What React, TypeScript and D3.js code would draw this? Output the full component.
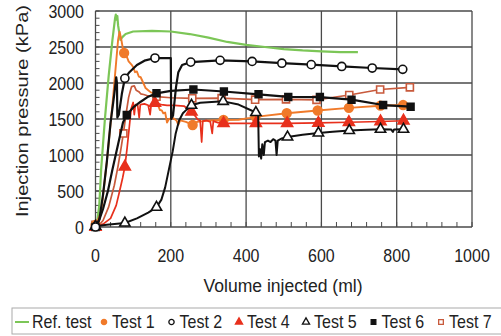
import React from "react";
import * as d3 from "d3";

type Pt = [number, number];

const volumeTicks = [0, 200, 400, 600, 800, 1000];
const pressureTicks = [0, 500, 1000, 1500, 2000, 2500, 3000];

const refLine: Pt[] = [[0,0],[5,100],[10,300],[15,800],[20,1150],[25,1500],[35,2100],[45,2600],[52,2900],[54,2950],[56,2880],[58,2930],[60,2800],[63,2700],[66,2600],[72,2640],[80,2680],[100,2715],[150,2725],[200,2715],[250,2680],[300,2630],[350,2570],[400,2530],[450,2500],[500,2470],[550,2452],[600,2440],[650,2428],[697,2428]];

const test1Line: Pt[] = [[0,30],[15,200],[30,900],[45,1700],[55,2300],[60,2600],[64,2712],[68,2620],[72,2500],[76,2417],[82,2380],[88,2300],[95,2260],[100,2222],[105,2150],[110,2160],[115,2090],[120,2080],[127,2000],[133,1930],[140,1900],[147,1870],[153,1860],[157,1780],[162,1760],[167,1680],[171,1625],[176,1620],[180,1580],[185,1590],[190,1450],[195,1500],[207,1510],[215,1480],[220,1420],[225,1480],[240,1460],[258,1417],[270,1460],[300,1480],[340,1486],[380,1490],[410,1515],[425,1530],[508,1580],[590,1618],[673,1655],[757,1685],[817,1694]];
const test1Marks: Pt[] = [[0,30],[76,2417],[258,1417],[340,1486],[425,1530],[508,1580],[590,1618],[673,1655],[757,1685],[817,1694]];

const test2Line: Pt[] = [[0,0],[10,100],[20,450],[30,900],[40,1450],[50,1850],[55,2080],[57,2000],[58,1520],[62,1560],[70,1850],[78,2065],[90,2150],[110,2250],[130,2310],[158,2347],[200,2345],[201,1500],[206,1550],[210,1750],[214,1950],[220,2150],[230,2250],[253,2290],[331,2315],[416,2300],[495,2275],[573,2255],[654,2230],[735,2208],[816,2190]];
const test2Marks: Pt[] = [[0,0],[78,2065],[158,2347],[253,2290],[331,2315],[416,2300],[495,2275],[573,2255],[654,2230],[735,2208],[816,2190]];

const test4Line: Pt[] = [[0,0],[20,40],[40,120],[55,300],[65,520],[72,680],[78,838],[84,1100],[90,1400],[95,1650],[100,1730],[103,1560],[106,1700],[112,1690],[116,1520],[119,1700],[130,1710],[140,1690],[145,1560],[148,1700],[158,1720],[175,1700],[190,1690],[210,1690],[235,1680],[255,1600],[265,1540],[272,1490],[278,1480],[282,1180],[285,1470],[295,1480],[305,1460],[310,1300],[313,1470],[325,1450],[340,1440],[380,1440],[426,1440],[509,1440],[592,1445],[673,1455],[757,1465],[818,1476]];
const test4Marks: Pt[] = [[0,0],[78,838],[158,1720],[255,1600],[340,1440],[426,1440],[509,1440],[592,1445],[673,1455],[757,1465],[818,1476]];

const test5Line: Pt[] = [[0,10],[30,30],[78,55],[110,120],[140,200],[162,273],[175,380],[185,550],[195,800],[205,1050],[213,1300],[222,1480],[232,1580],[242,1630],[255,1690],[278,1726],[339,1745],[380,1700],[426,1590],[432,1580],[434,980],[437,1080],[440,950],[443,1150],[447,1000],[450,1180],[458,1200],[465,1180],[472,1220],[478,1200],[481,1000],[484,1200],[495,1230],[510,1250],[550,1280],[592,1305],[630,1322],[674,1340],[720,1350],[757,1357],[785,1355],[790,1320],[793,1355],[818,1357]];
const test5Marks: Pt[] = [[0,10],[78,55],[162,273],[255,1690],[339,1745],[426,1590],[510,1250],[592,1305],[674,1340],[757,1357],[818,1357]];

const test6Line: Pt[] = [[0,0],[10,100],[20,250],[33,500],[45,800],[60,1150],[73,1450],[83,1555],[100,1660],[120,1740],[140,1810],[162,1857],[200,1890],[260,1910],[341,1882],[433,1843],[512,1806],[596,1805],[680,1768],[764,1694],[837,1671]];
const test6Marks: Pt[] = [[0,0],[83,1555],[162,1857],[260,1910],[341,1882],[433,1843],[512,1806],[596,1805],[680,1768],[764,1694],[837,1671]];

const test7Line: Pt[] = [[0,0],[10,30],[20,90],[35,280],[50,580],[60,850],[68,1100],[74,1300],[82,1600],[88,1800],[93,1900],[96,1950],[103,1960],[108,1900],[115,1880],[120,1850],[128,1840],[140,1820],[162,1810],[200,1795],[257,1787],[335,1790],[424,1768],[506,1773],[587,1766],[674,1833],[756,1910],[835,1940]];
const test7Marks: Pt[] = [[0,30],[74,1300],[162,1810],[257,1787],[335,1790],[424,1768],[506,1773],[587,1766],[674,1833],[756,1910],[835,1940]];

const GREEN = "#7cc657";
const ORANGE = "#f07a2a";
const RED = "#e8301c";
const BROWN = "#c85a3c";
const BLACK = "#111111";

type Series = {
  name: string;
  line: Pt[];
  marks: Pt[];
  color: string;
  symbol: d3.SymbolType | null;
  filled: boolean;
  width: number;
  size: number;
};

const seriesList: Series[] = [
  { name: "Ref. test", line: refLine, marks: [], color: GREEN, symbol: null, filled: false, width: 2.2, size: 0 },
  { name: "Test 7", line: test7Line, marks: test7Marks, color: BROWN, symbol: d3.symbolSquare, filled: false, width: 1.7, size: 50 },
  { name: "Test 1", line: test1Line, marks: test1Marks, color: ORANGE, symbol: d3.symbolCircle, filled: true, width: 1.9, size: 60 },
  { name: "Test 4", line: test4Line, marks: test4Marks, color: RED, symbol: d3.symbolTriangle, filled: true, width: 1.7, size: 52 },
  { name: "Test 5", line: test5Line, marks: test5Marks, color: BLACK, symbol: d3.symbolTriangle, filled: false, width: 2, size: 46 },
  { name: "Test 6", line: test6Line, marks: test6Marks, color: BLACK, symbol: d3.symbolSquare, filled: true, width: 2.2, size: 46 },
  { name: "Test 2", line: test2Line, marks: test2Marks, color: BLACK, symbol: d3.symbolCircle, filled: false, width: 2.2, size: 52 },
];

const legendOrder = ["Ref. test", "Test 1", "Test 2", "Test 4", "Test 5", "Test 6", "Test 7"];
const legendX = [15, 104, 171.5, 239, 306, 373.5, 441];

const W = 501, H = 336;
const x = d3.scaleLinear().domain([0, 1000]).range([95.5, 472]);
const y = d3.scaleLinear().domain([0, 3000]).range([227, 11]);
const FONT = "'Liberation Sans', Arial, Helvetica, sans-serif";
const GRID = "#4a4a4a";

export default function App() {
  const line = d3.line<Pt>().x(d => x(d[0])).y(d => y(d[1]));
  const minorY = d3.range(0, 3001, 100);
  const minorX = d3.range(0, 1001, 40);
  const sym = (s: Series, sz: number) => (s.symbol ? d3.symbol().type(s.symbol).size(sz)() || "" : "");
  return (
    <svg width={W} height={H} style={{ position: "absolute", left: 0, top: 0, background: "#fff" }} fontFamily={FONT}>
      <rect x={0} y={0} width={W} height={H} fill="#fff" />
      {pressureTicks.map(t => (
        <line key={"gy" + t} x1={x(0)} x2={x(1000)} y1={y(t)} y2={y(t)} stroke={GRID} strokeWidth={1.3} />
      ))}
      {volumeTicks.map(t => (
        <line key={"gx" + t} x1={x(t)} x2={x(t)} y1={y(0)} y2={y(3000)} stroke={GRID} strokeWidth={1.3} />
      ))}
      {minorY.map(t => (
        <line key={"my" + t} x1={x(0)} x2={x(0) + 4} y1={y(t)} y2={y(t)} stroke={GRID} strokeWidth={1} />
      ))}
      {minorX.map(t => (
        <line key={"mx" + t} x1={x(t)} x2={x(t)} y1={y(0)} y2={y(0) - 5} stroke={GRID} strokeWidth={1} />
      ))}
      {seriesList.map(s => (
        <g key={s.name}>
          <path d={line(s.line) || ""} fill="none" stroke={s.color} strokeWidth={s.width} strokeLinejoin="round" />
          {s.marks.map((m, i) => (
            <path key={i} d={sym(s, s.size)} transform={`translate(${x(m[0])},${y(m[1])})`}
              fill={s.filled ? s.color : "#fff"} stroke={s.color} strokeWidth={1.6} />
          ))}
        </g>
      ))}
      {pressureTicks.map(t => (
        <text key={"ty" + t} transform={`translate(84,${y(t) + 6.5}) scale(1,1.15)`} textAnchor="end" fontSize={16} fill="#222">{t}</text>
      ))}
      {volumeTicks.map(t => (
        <text key={"tx" + t} transform={`translate(${x(t)},262) scale(1,1.15)`} textAnchor="middle" fontSize={16} fill="#222">{t}</text>
      ))}
      <text transform="translate(283,292) scale(1,1.12)" textAnchor="middle" fontSize={17} fill="#222" textLength={159} lengthAdjust="spacingAndGlyphs">Volume injected (ml)</text>
      <text transform="translate(28,111) rotate(-90)" textAnchor="middle" fontSize={17} fill="#222" textLength={212} lengthAdjust="spacingAndGlyphs">Injection pressure (kPa)</text>
      <rect x={12} y={308} width={495} height={26} fill="none" stroke="#aaa" strokeWidth={1} />
      {legendOrder.map((n, i) => {
        const s = seriesList.find(q => q.name === n)!;
        const lx = legendX[i];
        return (
          <g key={"lg" + n}>
            {s.symbol ? (
              <path d={sym(s, 22)} transform={`translate(${lx},322)`} fill={s.filled ? s.color : "#fff"} stroke={s.color} strokeWidth={1.3} />
            ) : (
              <line x1={lx} x2={lx + 14} y1={322} y2={322} stroke={s.color} strokeWidth={2} />
            )}
            <text transform={`translate(${s.symbol ? lx + 8 : lx + 17},328) scale(1,1.15)`} fontSize={16} fill="#222">{n}</text>
          </g>
        );
      })}
    </svg>
  );
}
